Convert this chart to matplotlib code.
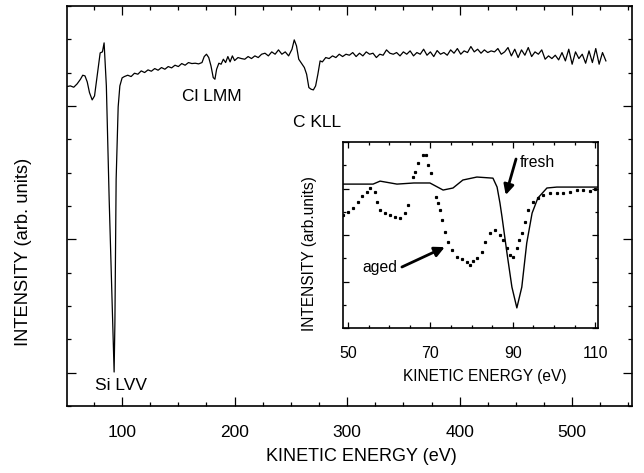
"""Auger spectrum of a Si surface with inset comparing fresh / aged Si LVV."""

import matplotlib
matplotlib.use("Agg")
import matplotlib.pyplot as plt
from matplotlib.ticker import MultipleLocator, NullFormatter

plt.rcParams["font.family"] = ["Liberation Sans", "DejaVu Sans"]

# ---- main spectrum (kinetic energy eV, intensity arb.) ----
# low-energy part incl. the Si LVV dip
low_ev = [51, 54, 57, 60, 63, 65, 67, 69, 71, 73.4,
          75.5, 78, 80.5, 82.5, 84, 86, 88.5, 91, 92.9, 93.6,
          94.7, 96.5, 98, 100]
low_int = [9.58, 9.60, 9.56, 9.66, 9.80, 9.92, 9.90, 9.72, 9.40, 9.18,
           9.30, 9.95, 10.59, 10.62, 10.89, 9.60, 6.20, 3.20, 1.02, 2.50,
           6.80, 8.97, 9.60, 9.84]

# 102 .. 278 eV, incl. Cl LMM and C KLL
mid_ev = [102, 105, 108, 111, 114, 117, 120, 123, 126, 129,
          132, 135, 138, 141, 144, 147, 150, 153, 156, 159,
          162, 165, 168, 171, 173, 175, 177, 179, 181, 182.5,
          184, 186, 188, 190, 192, 194, 196, 198, 200, 203,
          206, 209, 212, 215, 218, 221, 224, 227, 230, 233,
          236, 239, 242, 245, 248, 251, 253, 255, 257, 260,
          262, 264, 266, 268, 270, 272, 274, 276, 278]
mid_int = [9.88, 9.92, 9.88, 9.98, 9.95, 10.05, 10.00, 10.08, 10.04, 10.12,
           10.07, 10.15, 10.10, 10.18, 10.14, 10.22, 10.18, 10.27, 10.22, 10.30,
           10.27, 10.28, 10.26, 10.30, 10.48, 10.55, 10.45, 10.20, 9.85, 9.80,
           10.10, 10.28, 10.25, 10.40, 10.30, 10.48, 10.32, 10.50, 10.36, 10.45,
           10.42, 10.40, 10.48, 10.42, 10.50, 10.45, 10.55, 10.58, 10.50, 10.62,
           10.55, 10.68, 10.55, 10.62, 10.50, 10.70, 10.98, 10.80, 10.40, 10.25,
           10.15, 9.95, 9.55, 9.50, 9.48, 9.60, 9.95, 10.35, 10.32]

# 281 .. 530 eV, noisy plateau
high_ev = [281, 284, 287, 290, 293, 296, 299, 302, 305, 308,
           311, 314, 317, 320, 323, 326, 329, 332, 335, 338,
           341, 344, 347, 350, 353, 356, 359, 362, 365, 368,
           371, 374, 377, 380, 383, 386, 389, 392, 395, 398,
           401, 404, 407, 410, 413, 416, 419, 422, 425, 428,
           431, 434, 437, 440, 443, 446, 449, 452, 455, 458,
           461, 464, 467, 470, 473, 476, 479, 482, 485, 488,
           491, 494, 497, 500, 503, 506, 509, 512, 515, 518,
           521, 524, 527, 530]
high_int = [10.45, 10.42, 10.50, 10.45, 10.55, 10.48, 10.55, 10.52, 10.60, 10.48,
            10.58, 10.50, 10.62, 10.55, 10.58, 10.45, 10.55, 10.52, 10.68, 10.58,
            10.55, 10.60, 10.50, 10.62, 10.55, 10.65, 10.50, 10.60, 10.55, 10.70,
            10.52, 10.62, 10.48, 10.66, 10.55, 10.60, 10.52, 10.68, 10.58, 10.72,
            10.55, 10.65, 10.60, 10.78, 10.62, 10.70, 10.58, 10.68, 10.60, 10.65,
            10.62, 10.72, 10.55, 10.62, 10.75, 10.50, 10.70, 10.45, 10.68, 10.52,
            10.75, 10.48, 10.62, 10.55, 10.68, 10.40, 10.50, 10.42, 10.52, 10.38,
            10.60, 10.35, 10.70, 10.25, 10.62, 10.42, 10.55, 10.28, 10.65, 10.30,
            10.72, 10.25, 10.60, 10.35]

# ---- inset: Si LVV region ----
fresh_ev = [48.8, 52.0, 56.1, 57.8, 61.9, 66.0, 69.9, 73.1, 75.5, 77.9,
            81.3, 85.2, 86.2, 86.9, 87.4, 88.6, 89.8, 91.0, 92.2, 93.4,
            94.7, 96.1, 98.3, 100.7, 104.0, 107.0, 110.7]
fresh_int = [0.774, 0.774, 0.774, 0.790, 0.774, 0.780, 0.780, 0.742, 0.753, 0.796,
             0.812, 0.806, 0.758, 0.672, 0.597, 0.403, 0.220, 0.108, 0.220, 0.457,
             0.618, 0.699, 0.753, 0.758, 0.758, 0.758, 0.758]

aged_ev = [48.8, 50.0, 51.2, 52.4, 53.4, 54.6, 55.3, 56.6, 57.0, 57.8,
           59.0, 60.2, 61.4, 62.6, 63.8, 64.6, 65.8, 66.3, 67.0, 68.2,
           68.9, 69.4, 70.1, 71.4, 71.8, 72.3, 72.8, 73.5, 74.3, 75.2,
           76.5, 77.7, 78.9, 79.6, 80.3, 81.3, 82.5, 83.3, 84.5, 85.7,
           86.9, 87.6, 88.6, 89.3, 90.0, 91.0, 91.5, 92.2, 93.0, 93.7,
           94.9, 96.1, 97.3, 99.0, 100.7, 102.2, 103.9, 105.6, 107.0, 108.7,
           110.0]
aged_int = [0.608, 0.624, 0.645, 0.677, 0.710, 0.731, 0.753, 0.731, 0.677, 0.634,
            0.618, 0.608, 0.597, 0.592, 0.618, 0.661, 0.812, 0.840, 0.887, 0.930,
            0.930, 0.876, 0.833, 0.704, 0.672, 0.634, 0.580, 0.516, 0.462, 0.419,
            0.382, 0.371, 0.355, 0.339, 0.360, 0.376, 0.409, 0.462, 0.511, 0.527,
            0.500, 0.473, 0.430, 0.392, 0.382, 0.430, 0.473, 0.511, 0.570, 0.634,
            0.680, 0.699, 0.715, 0.726, 0.726, 0.726, 0.731, 0.742, 0.742, 0.737,
            0.747]

main_xticks = [100, 200, 300, 400, 500]
inset_xticks = [50, 70, 90, 110]


def style_axes(ax, major_len, minor_len, pad):
    ax.tick_params(which="both", direction="in", top=True, right=True,
                   width=0.9, labelsize=12.5, pad=pad)
    ax.tick_params(which="major", length=major_len)
    ax.tick_params(which="minor", length=minor_len)
    for sp in ax.spines.values():
        sp.set_linewidth(1.2)


main_ev = low_ev + mid_ev + high_ev
main_int = low_int + mid_int + high_int

fig = plt.figure(figsize=(6.44, 4.73), dpi=100)

ax = fig.add_axes([0.104, 0.1416, 0.877, 0.846])
ax.plot(main_ev, main_int, color="black", lw=0.9)
ax.set_xlim(51, 553)
ax.set_ylim(0, 12)
ax.set_xticks(main_xticks)
ax.xaxis.set_minor_locator(MultipleLocator(25))
ax.set_yticks([1, 5, 9])
ax.yaxis.set_minor_locator(MultipleLocator(1))
ax.yaxis.set_major_formatter(NullFormatter())
style_axes(ax, 6.5, 3.2, 14)
ax.set_xlabel("KINETIC ENERGY (eV)", fontsize=13)
ax.xaxis.set_label_coords(0.522, -0.105)
ax.set_ylabel("INTENSITY (arb. units)", fontsize=13.2)
ax.yaxis.set_label_coords(-0.062, 0.385)

ax.text(76, 0.63, "Si LVV", fontsize=12.5, va="center", ha="left")
ax.text(153, 9.27, "Cl LMM", fontsize=12.5, va="center", ha="left")
ax.text(251.7, 8.49, "C KLL", fontsize=12.5, va="center", ha="left")

ins = fig.add_axes([0.5326, 0.3066, 0.396, 0.393])
ins.plot(fresh_ev, fresh_int, color="black", lw=1.0)
ins.plot(aged_ev, aged_int, ls="none", marker="s", ms=1.3, color="black")
ins.set_xlim(48.8, 110.7)
ins.set_ylim(0, 1)
ins.set_xticks(inset_xticks)
ins.xaxis.set_minor_locator(MultipleLocator(5))
ins.yaxis.set_major_locator(MultipleLocator(0.25))
ins.yaxis.set_minor_locator(MultipleLocator(0.125))
ins.yaxis.set_major_formatter(NullFormatter())
style_axes(ins, 4, 2.5, 13)
ins.tick_params(labelsize=11.5)
ins.set_xlabel("KINETIC ENERGY (eV)", fontsize=11.2)
ins.xaxis.set_label_coords(0.557, -0.22)
ins.set_ylabel("INTENSITY (arb.units)", fontsize=11.2)
ins.yaxis.set_label_coords(-0.10, 0.398)

arrow = dict(arrowstyle="-|>", color="black", lw=2, mutation_scale=15,
             shrinkA=0, shrinkB=0)
ins.annotate("", xy=(88.3, 0.715), xytext=(90.8, 0.909), arrowprops=arrow)
ins.text(91.7, 0.892, "fresh", fontsize=11.3, va="center", ha="left")
ins.annotate("", xy=(73.5, 0.435), xytext=(63.1, 0.328), arrowprops=arrow)
ins.text(53.4, 0.323, "aged", fontsize=11.3, va="center", ha="left")

fig.savefig("out.png", dpi=100)
